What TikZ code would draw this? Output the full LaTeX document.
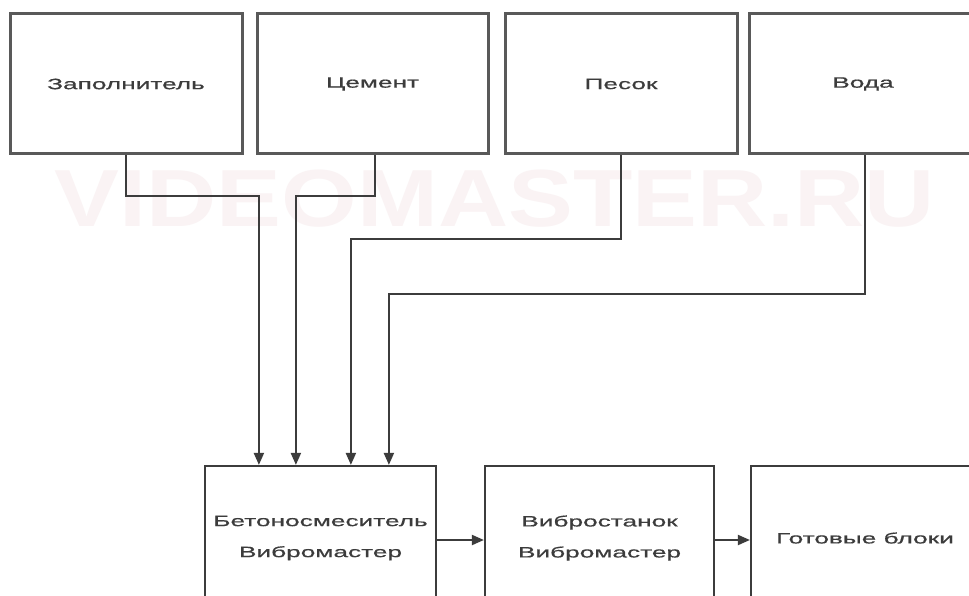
\documentclass[tikz,border=0pt]{standalone}
\usepackage{fontspec}
\setmainfont{Liberation Sans}
\newfontfamily\labfont[FakeStretch=1.75,FakeBold=0.6]{Liberation Sans}
\newfontfamily\wmfont[FakeStretch=1.2]{Liberation Sans Bold}
\usetikzlibrary{arrows.meta,calc}
\definecolor{wmcol}{RGB}{250,243,244}
\definecolor{linecol}{RGB}{60,60,60}
\definecolor{txtcol}{RGB}{60,60,60}
\begin{document}
\begin{tikzpicture}[x=1pt,y=-1pt,
  topbox/.style={draw=linecol!85, line width=3pt, inner sep=0pt, minimum height=140pt, text=txtcol, font=\labfont\fontsize{15}{30}\selectfont},
  botbox/.style={draw=linecol, line width=2.2pt, inner sep=0pt, minimum height=144pt, text=txtcol, align=center, font=\labfont\fontsize{15}{31}\selectfont},
  conn/.style={draw=linecol, line width=2pt, -{Triangle[length=12pt,width=10pt]}},
]
\useasboundingbox (0,0) rectangle (969,596);
\fill[white] (0,0) rectangle (969,596);
% watermark
\node[text=wmcol, font=\wmfont\fontsize{81}{81}\selectfont, inner sep=0pt] (wm) at (495,199) {VIDEOMASTER.RU};
% top boxes
\node[topbox, minimum width=232pt] (b1) at (126,84) {Заполнитель};
\node[topbox, minimum width=231pt] (b2) at (372.5,84) {Цемент};
\node[topbox, minimum width=232pt] (b3) at (621,84) {Песок};
\node[topbox, minimum width=236pt] (b4) at (867,84) {\hspace*{-8pt}Вода};
% bottom boxes
\node[botbox, minimum width=231pt] (mix) at (320.5,538) {Бетоносмеситель\\Вибромастер};
\node[botbox, minimum width=229pt] (vib) at (599.5,538) {Вибростанок\\Вибромастер};
\node[botbox, minimum width=236pt] (res) at (869,538) {\hspace*{-8pt}Готовые блоки};
% connectors
\draw[conn] (b1.south) -- ++(0,41) -| ($(mix.north west)+(55,0)$);
\draw[conn] ([xshift=2pt]b2.south) -- ++(0,41) -| ($(mix.north west)+(92,0)$);
\draw[conn] (b3.south) -- ++(0,83) -| ($(mix.north west)+(147,0)$);
\draw[conn] ([xshift=-2pt]b4.south) -- ++(0,138) -| ($(mix.north west)+(185,0)$);
\draw[conn] ([yshift=-2pt]mix.east) -- ([yshift=-2pt]vib.west);
\draw[conn] ([yshift=-2pt]vib.east) -- ([yshift=-2pt]res.west);
\end{tikzpicture}
\end{document}
